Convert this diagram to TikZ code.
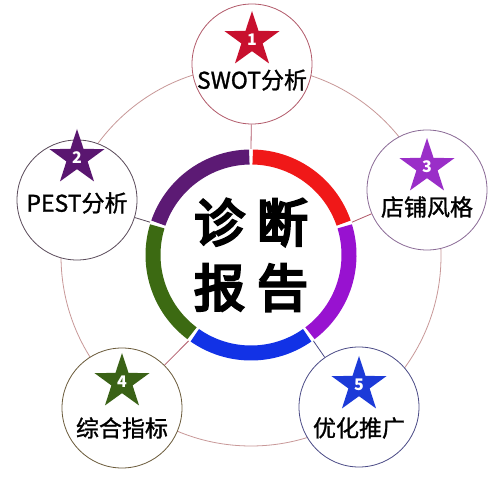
\documentclass[tikz,border=0pt]{standalone}
\usepackage{fontspec}
\newfontfamily\cjk{Noto Sans CJK SC}
\newfontfamily\cjkm[FakeBold=1.2]{Noto Sans CJK SC}
\newfontfamily\cjkb[FakeBold=5]{Noto Sans CJK SC}
\usepackage{tikz}
\usetikzlibrary{shapes.geometric, positioning}

\definecolor{ringred}{HTML}{F01818}
\definecolor{ringviolet}{HTML}{9812D0}
\definecolor{ringblue}{HTML}{1232E6}
\definecolor{ringgreen}{HTML}{3C6A12}
\definecolor{ringplum}{HTML}{5C1A74}
\definecolor{starA}{HTML}{C8102E}
\definecolor{starB}{HTML}{5A1670}
\definecolor{starC}{HTML}{9A2EC8}
\definecolor{starD}{HTML}{3A6216}
\definecolor{starE}{HTML}{1C3AD8}
\definecolor{lineA}{HTML}{B25A6A}
\definecolor{lineB}{HTML}{5A4A5A}
\definecolor{lineC}{HTML}{8A6A96}
\definecolor{lineD}{HTML}{6A5A3A}
\definecolor{lineE}{HTML}{4A4A86}
\definecolor{rim}{HTML}{C89898}

\begin{document}
\begin{tikzpicture}[x=1pt,y=1pt,node distance=24pt,on grid]
    \tikzstyle{bubble}=[shape=circle,draw,fill=white,line width=0.8pt,minimum size=120pt,inner sep=0pt]
    \tikzstyle{badge}=[shape=star,star points=5,star point ratio=2.6,minimum size=58pt,inner sep=0pt,text=white,font=\cjk\bfseries\fontsize{16}{16}\selectfont]
    \tikzstyle{tag}=[font=\cjkm\fontsize{23}{23}\selectfont,text=black]
    \tikzstyle{band}=[line width=15pt]
    \tikzstyle{spoke}=[line width=0.8pt]

    \useasboundingbox (0,0) rectangle (500,500);
    \fill[white] (0,0) rectangle (500,500);

    % outer thin ring
    \draw[rim,line width=0.8pt] (251,244) circle (190);

    \node[shape=circle,minimum size=212pt] (core) at (251,245) {};

    % coloured ring
    \foreach \a/\c in {18/ringred,-54/ringviolet,-126/ringblue,-198/ringgreen,90/ringplum}
      \draw[band,\c] (core.center) ++({\a+1}:98) arc[start angle=\a+1,end angle=\a+71,radius=98];

    \node[font=\cjkb\fontsize{51}{65}\selectfont,align=center] (title) at (core.center)
      {诊\hspace{12pt}断\\报\hspace{12pt}告};

    \node[bubble,draw=lineA] (n1) at (252,436) {};
    \node[bubble,draw=lineB] (n2) at (77,300) {};
    \node[bubble,draw=lineC] (n3) at (427,310) {};
    \node[bubble,draw=lineD] (n4) at (122,92) {};
    \node[bubble,draw=lineE] (n5) at (359,93) {};

    \path[spoke]
    (core.90) edge[lineA] (n1)
    (core.162) edge[lineB] (n2)
    (core.18) edge[lineA] (n3)
    (core.-126) edge[lineA] (n4)
    (core.-54) edge[lineE] (n5)
    ;

    \node[badge,fill=starA,above=24pt of n1] (s1) {1};
    \node[tag,below=16pt of n1] (t1) {SWOT分析};
    \node[badge,fill=starB,above=42pt of n2] (s2) {2};
    \node[tag,below=3pt of n2] (t2) {PEST分析};
    \node[badge,fill=starC,above=23pt of n3] (s3) {3};
    \node[tag,below=17pt of n3] (t3) {店铺风格};
    \node[badge,fill=starD,above=26pt of n4] (s4) {4};
    \node[tag,below=20pt of n4] (t4) {综合指标};
    \node[badge,fill=starE,above=22pt of n5] (s5) {5};
    \node[tag,below=21pt of n5] (t5) {优化推广};

  \end{tikzpicture}
\end{document}
